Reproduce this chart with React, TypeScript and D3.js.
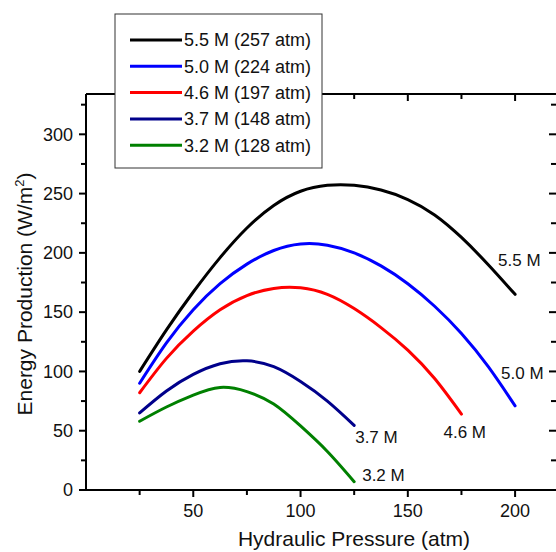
import React from 'react';
import * as d3 from 'd3';

// hydraulic pressure (atm) sampled along every curve
const pressure = [25, 37.5, 50, 62.5, 75, 87.5, 100, 112.5, 125, 137.5, 150, 162.5, 175, 187.5, 200];

// energy production (W/m^2) per concentration
const power55 = [100, 135, 167, 196, 221, 240, 252, 257, 257, 253, 245, 232, 213, 190, 165];
const power50 = [90, 124, 152, 174, 190.5, 202, 207.5, 206.5, 200, 189, 174, 155, 132, 104, 71];
const power46 = [82, 111, 134, 152, 164, 170, 170.5, 165, 153, 137, 118, 94, 64];
const power37 = [65, 83.5, 97.5, 106.5, 109, 104, 91.5, 75, 54.5];
const power32 = [58, 70, 80, 86.5, 83, 72.5, 54, 32.5, 7];

const seriesNames = ['5.5 M (257 atm)', '5.0 M (224 atm)', '4.6 M (197 atm)', '3.7 M (148 atm)', '3.2 M (128 atm)'];
const endLabels = ['5.5 M', '5.0 M', '4.6 M', '3.7 M', '3.2 M'];
const colors = ['#000000', '#0000ff', '#ff0000', '#00008b', '#008000'];

const xTicks = [50, 100, 150, 200];
const yTicks = [0, 50, 100, 150, 200, 250, 300];

const W = 556, H = 552;
const left = 86, right = 558, top = 94, bottom = 490;
const font = '"Liberation Sans", Arial, Helvetica, sans-serif';

export default function App() {
  const x = d3.scaleLinear().domain([0, 220]).range([left, right]);
  const y = d3.scaleLinear().domain([0, 334]).range([bottom, top]);

  const line = d3.line<[number, number]>()
    .x(d => x(d[0]))
    .y(d => y(d[1]))
    .curve(d3.curveNatural);

  const series = [power55, power50, power46, power37, power32].map((vals, i) => ({
    name: seriesNames[i],
    label: endLabels[i],
    color: colors[i],
    points: vals.map((v, j) => [pressure[j], v] as [number, number]),
  }));

  // where the curve end labels sit, offsets from the last point
  const labelOffsets: [number, number][] = [[-17, -28], [-14, -27], [-18, 24], [1, 18], [8, -1]];

  const xMinor = d3.range(25, 220, 25);
  const yMinor = d3.range(25, 334, 25);

  return (
    <svg width={W} height={H} style={{ display: 'block', position: 'absolute', left: 0, top: 0 }}
      fontFamily={font}>
      <rect width={W} height={H} fill="#fff" />

      {/* frame */}
      <g stroke="#000" strokeWidth={2} fill="none">
        <line x1={left} x2={right} y1={bottom} y2={bottom} />
        <line x1={left} x2={right} y1={top} y2={top} />
        <line x1={left} x2={left} y1={top} y2={bottom} />
        <line x1={right} x2={right} y1={top} y2={bottom} />
      </g>

      {/* ticks */}
      <g stroke="#000" strokeWidth={2}>
        {xMinor.map(t => {
          const major = t % 50 === 0;
          const len = major ? 7 : 5;
          return (
            <g key={'xt' + t}>
              <line x1={x(t)} x2={x(t)} y1={bottom} y2={bottom + len} />
              <line x1={x(t)} x2={x(t)} y1={top} y2={top + len} />
            </g>
          );
        })}
        {yMinor.concat([0]).map(t => {
          const major = t % 50 === 0;
          const len = major ? 7 : 5;
          return (
            <g key={'yt' + t}>
              <line x1={left} x2={left - len} y1={y(t)} y2={y(t)} />
              <line x1={right} x2={right - len - 2} y1={y(t)} y2={y(t)} />
            </g>
          );
        })}
      </g>

      {/* tick labels */}
      <g fontSize={18} fill="#111">
        {xTicks.map(t => (
          <text key={'xl' + t} x={x(t)} y={bottom + 27} textAnchor="middle">{t}</text>
        ))}
        {yTicks.map(t => (
          <text key={'yl' + t} x={left - 13} y={y(t)} dy="0.35em" textAnchor="end">{t}</text>
        ))}
      </g>

      {/* axis titles */}
      <text x={354} y={546} fontSize={21} textAnchor="middle" fill="#111">Hydraulic Pressure (atm)</text>
      <text transform={`translate(32, 294) rotate(-90)`} fontSize={21} textAnchor="middle" fill="#111">
        Energy Production (W/m<tspan dy={-8} fontSize={13}>2</tspan><tspan dy={8}>)</tspan>
      </text>

      {/* curves */}
      {series.map(s => (
        <path key={s.name} d={line(s.points) || ''} fill="none" stroke={s.color} strokeWidth={3} strokeLinecap="round" />
      ))}

      {/* end labels */}
      <g fontSize={17} fill="#111">
        {series.map((s, i) => {
          const last = s.points[s.points.length - 1];
          return (
            <text key={'el' + i} x={x(last[0]) + labelOffsets[i][0]} y={y(last[1]) + labelOffsets[i][1]}>{s.label}</text>
          );
        })}
      </g>

      {/* legend */}
      <g>
        <rect x={115} y={14} width={207} height={154} fill="#fff" stroke="#333" strokeWidth={1} />
        {series.map((s, i) => (
          <g key={'lg' + i} transform={`translate(0, ${40 + i * 26.3})`}>
            <line x1={130} x2={182} y1={0} y2={0} stroke={s.color} strokeWidth={3} />
            <text x={184} y={0} dy="0.35em" fontSize={18} fill="#111">{s.name}</text>
          </g>
        ))}
      </g>
    </svg>
  );
}
